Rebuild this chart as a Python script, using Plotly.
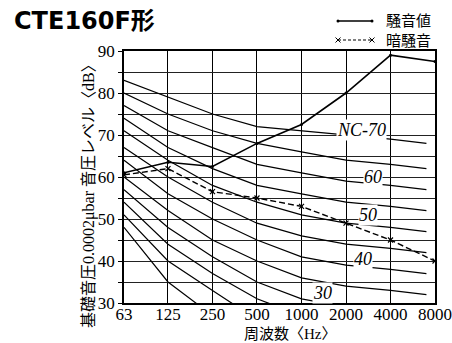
import numpy as np
import plotly.graph_objects as go

# ---- data ----
freqs = [63, 125, 250, 500, 1000, 2000, 4000, 8000]
freq_labels = ["63", "125", "250", "500", "1000", "2000", "4000", "8000"]
nc_freqs = [63, 125, 250, 500, 1000, 2000, 4000, 7000]

nc70 = [83, 79, 75, 72, 71, 70, 69, 68]
nc65 = [80, 75, 71, 68, 66, 64, 63, 62]
nc60 = [77, 71, 67, 63, 61, 59, 58, 57]
nc55 = [74, 67, 62, 58, 56, 54, 53, 52]
nc50 = [71, 64, 58, 54, 51, 49, 48, 47]
nc45 = [67, 60, 54, 49, 46, 44, 43, 42]
nc40 = [64, 56, 50, 45, 41, 39, 38, 37]
nc35 = [60, 52, 45, 40, 36, 34, 33, 32]
nc30 = [57, 48, 41, 35, 31, 29, 28, 27]
nc25 = [54, 44, 37, 31, 27, 24, 22, 21]
nc20 = [51, 40, 33, 26, 22, 19, 17, 16]
nc15 = [48, 35, 27, 22, 17, 14, 12, 11]
nc_curves = [nc70, nc65, nc60, nc55, nc50, nc45, nc40, nc35, nc30, nc25, nc20, nc15]

noise = [61, 63.5, 62.5, 68, 72.5, 80, 89, 87.5]        # 騒音値
background = [60.5, 62, 56.5, 55, 53, 49, 45, 40]      # 暗騒音

nc_label_text = ["NC-70", "60", "50", "40", "30"]
nc_label_freq = [2530, 3040, 2800, 2590, 1390]
nc_label_db = [71.2, 60, 51, 40.5, 32.4]

y_ticks = list(range(30, 95, 5))
y_ticktext = [str(v) if v % 10 == 0 else "" for v in y_ticks]

SERIF = "Liberation Serif, Times New Roman, serif"
CJK = "Noto Sans CJK JP"

fig = go.Figure()
for c in nc_curves:
    fig.add_trace(go.Scatter(x=nc_freqs, y=c, mode="lines",
                             line=dict(color="black", width=1.2),
                             showlegend=False, hoverinfo="skip"))

fig.add_trace(go.Scatter(x=freqs, y=noise, mode="lines+markers",
                         line=dict(color="black", width=1.6),
                         marker=dict(size=3, color="black"),
                         showlegend=False))
fig.add_trace(go.Scatter(x=freqs, y=background, mode="lines+markers",
                         line=dict(color="black", width=1.4, dash="6px,3px"),
                         marker=dict(size=5, color="black", symbol="x-thin",
                                     line=dict(width=1.2, color="black")),
                         showlegend=False))

for t, f, d in zip(nc_label_text, nc_label_freq, nc_label_db):
    fig.add_annotation(x=np.log10(f), y=d, text="<i>" + t + "</i>", showarrow=False,
                       font=dict(family=SERIF, size=18, color="black"),
                       bgcolor="white", borderpad=0,
                       xanchor="center", yanchor="middle")

L, R, T, B = 124, 435, 51, 303      # plot area in screen pixels
W, H = 452, 343
def px(x):
    return (x - L) / (R - L)
def py(y):
    return (B - y) / (B - T)

# title
fig.add_annotation(xref="paper", yref="paper", x=px(12), y=py(21), text="<b>CTE160F形</b>",
                   showarrow=False, xanchor="left", yanchor="middle",
                   font=dict(family="DejaVu Sans, Noto Sans CJK JP", size=24, color="black"))

# y title
fig.add_annotation(xref="paper", yref="paper", x=px(89), y=py(192),
                   text="基礎音圧0.0002μbar 音圧レベル〈dB〉", textangle=-90,
                   showarrow=False, xanchor="center", yanchor="middle",
                   font=dict(family="Liberation Serif, Noto Sans CJK JP", size=16, color="black"))
# x title
fig.add_annotation(xref="paper", yref="paper", x=px(290), y=py(334),
                   text="周波数〈Hz〉", showarrow=False, xanchor="center", yanchor="middle",
                   font=dict(family="Liberation Serif, Noto Sans CJK JP", size=15, color="black"))

# legend
shapes = []
shapes.append(dict(type="line", xref="paper", yref="paper", x0=px(338), x1=px(372),
                   y0=py(21), y1=py(21), line=dict(color="black", width=1.4)))
for xx in (338, 372):
    shapes.append(dict(type="circle", xref="paper", yref="paper",
                       x0=px(xx - 1.5), x1=px(xx + 1.5), y0=py(22.5), y1=py(19.5),
                       fillcolor="black", line=dict(color="black", width=0)))
shapes.append(dict(type="line", xref="paper", yref="paper", x0=px(338), x1=px(372),
                   y0=py(40), y1=py(40), line=dict(color="black", width=1.2, dash="3px,2px")))
for xx in (338, 372):
    shapes.append(dict(type="line", xref="paper", yref="paper", x0=px(xx - 2.5), x1=px(xx + 2.5),
                       y0=py(37.5), y1=py(42.5), line=dict(color="black", width=1)))
    shapes.append(dict(type="line", xref="paper", yref="paper", x0=px(xx - 2.5), x1=px(xx + 2.5),
                       y0=py(42.5), y1=py(37.5), line=dict(color="black", width=1)))
fig.add_annotation(xref="paper", yref="paper", x=px(384), y=py(19), text="騒音値",
                   showarrow=False, xanchor="left", yanchor="middle",
                   font=dict(family=CJK, size=15, color="black"))
fig.add_annotation(xref="paper", yref="paper", x=px(384), y=py(40), text="暗騒音",
                   showarrow=False, xanchor="left", yanchor="middle",
                   font=dict(family=CJK, size=15, color="black"))

fig.update_layout(width=W, height=H,
                  margin=dict(l=L, r=W - R, t=T, b=H - B, pad=0),
                  paper_bgcolor="white", plot_bgcolor="white", shapes=shapes,
                  showlegend=False)
fig.update_xaxes(type="log", range=[np.log10(63), np.log10(8000)], automargin=False,
                 tickvals=freqs, ticktext=freq_labels, showgrid=True,
                 gridcolor="black", gridwidth=1.3, showline=True, mirror=True,
                 linecolor="black", linewidth=1.5, ticks="", zeroline=False,
                 ticklabelstandoff=-5,
                 tickfont=dict(family=SERIF, size=17, color="black"))
fig.update_yaxes(range=[30, 90], tickvals=y_ticks, ticktext=y_ticktext, showgrid=True,
                 automargin=False,
                 gridcolor="#222", gridwidth=1.1, showline=True, mirror=True,
                 linecolor="black", linewidth=1.5, ticks="outside", ticklen=4,
                 tickcolor="black", zeroline=False,
                 tickfont=dict(family=SERIF, size=17, color="black"))

fig.write_html("out.html", config={"displayModeBar": False},
               post_script="document.body.style.margin='0';document.body.style.overflow='hidden';")
